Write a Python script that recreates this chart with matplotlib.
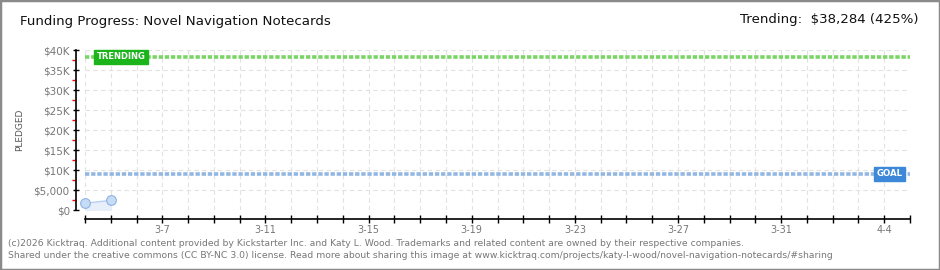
import matplotlib
matplotlib.use("Agg")
import matplotlib.pyplot as plt
from matplotlib.patches import Rectangle

# data
days = ["3-4", "3-5", "3-6", "3-7", "3-8", "3-9", "3-10", "3-11", "3-12", "3-13",
        "3-14", "3-15", "3-16", "3-17", "3-18", "3-19", "3-20", "3-21", "3-22",
        "3-23", "3-24", "3-25", "3-26", "3-27", "3-28", "3-29", "3-30", "3-31",
        "4-1", "4-2", "4-3", "4-4", "4-5"]
pledged = [1700, 2400]
goal = 9000
trending = 38284
y_ticks = [0, 5000, 10000, 15000, 20000, 25000, 30000, 35000, 40000]
y_labels = ["$0", "$5,000", "$10K", "$15K", "$20K", "$25K", "$30K", "$35K", "$40K"]

W, H = 940, 270
fig = plt.figure(figsize=(W / 100, H / 100), dpi=100)
fig.patch.set_facecolor("white")
fig.patches.append(Rectangle((0, 0), 1, 1, transform=fig.transFigure,
                             fill=False, edgecolor="#8a8a8a", linewidth=2.5))

ax = fig.add_axes([85 / W, (H - 210) / H, 825 / W, 160 / H])
x = list(range(len(days)))
n = len(days) - 1

# grid
for i in x:
    ax.axvline(i, color="#e2e2e2", lw=0.8, ls=(0, (4, 3)), zorder=0)
for v in y_ticks:
    ax.axhline(v, color="#e2e2e2", lw=0.8, ls=(0, (4, 3)), zorder=0)

# pledged series
px = x[:len(pledged)]
ax.fill_between(px, pledged, 0, color="#e6effa", zorder=1)
ax.plot(px, pledged, color="#b7d0f0", lw=1, zorder=2)
ax.plot(px, pledged, "o", ms=7, mfc="#c6dcf6", mec="#8fb2e2", mew=0.8,
        zorder=3, clip_on=False)

# trending / goal lines
ax.plot([0, n], [trending, trending], color="#7ad466", lw=2.6,
        ls=(0, (1.2, 0.5)), solid_capstyle="butt", zorder=2)
ax.plot([0, n], [goal, goal], color="#93b7e3", lw=2.6,
        ls=(0, (1.2, 0.5)), solid_capstyle="butt", zorder=2)

ax.text(0.45, trending, "TRENDING", color="white", fontsize=6, fontweight="bold",
        ha="left", va="center", zorder=5,
        bbox=dict(boxstyle="square,pad=0.28", fc="#1bb51b", ec="#1bb51b"))
ax.text(n - 0.3, goal, "GOAL", color="white", fontsize=6.2, fontweight="bold",
        ha="right", va="center", zorder=5,
        bbox=dict(boxstyle="square,pad=0.28", fc="#3d88d9", ec="#3d88d9"))

ax.set_xlim(0, n)
ax.set_ylim(0, 40000)

for s in ["top", "right"]:
    ax.spines[s].set_visible(False)
ax.spines["left"].set_position(("outward", 9 * 0.72))
ax.spines["bottom"].set_position(("outward", 9 * 0.72))
ax.spines["left"].set_linewidth(1.2)
ax.spines["bottom"].set_linewidth(1.2)

ax.set_yticks(y_ticks)
ax.set_yticklabels(y_labels, fontsize=7.5, color="#777777")
ax.set_yticks([2500 + 5000 * k for k in range(8)], minor=True)
ax.tick_params(axis="y", which="major", direction="inout", length=5, width=1, pad=2)
ax.tick_params(axis="y", which="minor", direction="out", length=3, width=1, color="red")

ax.set_xticks(x)
ax.set_xticklabels([d if (i - 3) % 4 == 0 else "" for i, d in enumerate(days)],
                   fontsize=7, color="#777777")
ax.tick_params(axis="x", direction="inout", length=6, width=1, pad=1)

fig.text(20 / W, 1 - 130 / H, "PLEDGED", rotation=90, fontsize=6.5, color="#555555",
         ha="center", va="center")

fig.text(20 / W, 1 - 22 / H, "Funding Progress: Novel Navigation Notecards",
         fontsize=9.6, color="#111111", ha="left", va="center")
fig.text(918 / W, 1 - 20 / H, "Trending:  \\$38,284 (425%)",
         fontsize=9.6, color="#111111", ha="right", va="center")

fig.text(8 / W, 1 - 243 / H,
         "(c)2026 Kicktraq. Additional content provided by Kickstarter Inc. and Katy L. Wood. "
         "Trademarks and related content are owned by their respective companies.",
         fontsize=6.7, color="#777777", ha="left", va="center")
fig.text(8 / W, 1 - 256 / H,
         "Shared under the creative commons (CC BY-NC 3.0) license. Read more about sharing this "
         "image at www.kicktraq.com/projects/katy-l-wood/novel-navigation-notecards/#sharing",
         fontsize=6.7, color="#777777", ha="left", va="center")

fig.savefig("out.png", dpi=100)
